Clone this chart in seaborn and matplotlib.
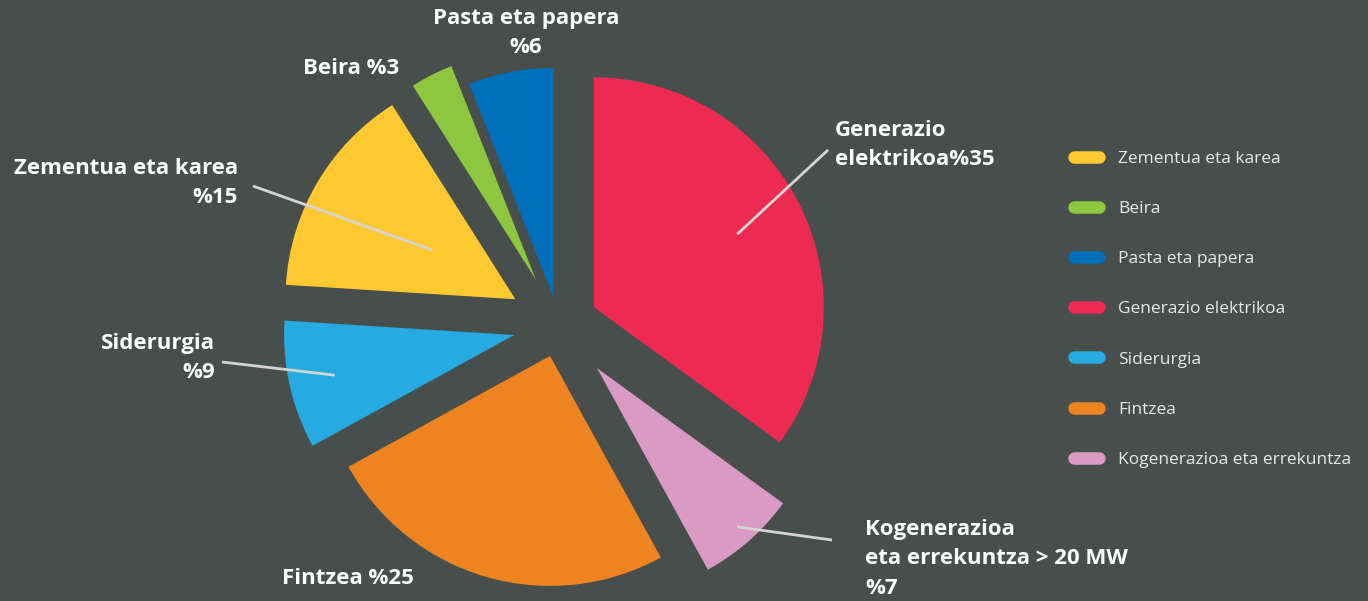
import numpy as np
import matplotlib
matplotlib.use("Agg")
import matplotlib.pyplot as plt
from matplotlib.lines import Line2D
import seaborn as sns

# Pie order, clockwise from 12 o'clock
sectors = ["Generazio elektrikoa", "Kogenerazioa eta errekuntza", "Fintzea",
           "Siderurgia", "Zementua eta karea", "Beira", "Pasta eta papera"]
shares = [35, 7, 25, 9, 15, 3, 6]
colors = ["#ED2A51", "#D99BC4", "#ED841F", "#25AAE1", "#FEC930", "#8DC63F", "#0070BA"]
explode_frac = [0.17, 0.25, 0.14, 0.20, 0.22, 0.22, 0.12]

# Legend order as in the reference
legend_order = ["Zementua eta karea", "Beira", "Pasta eta papera", "Generazio elektrikoa",
                "Siderurgia", "Fintzea", "Kogenerazioa eta errekuntza"]

label_texts = {
    "Generazio elektrikoa": "Generazio\nelektrikoa%35",
    "Kogenerazioa eta errekuntza": "Kogenerazioa\neta errekuntza > 20 MW\n%7",
    "Fintzea": "Fintzea %25",
    "Siderurgia": "Siderurgia\n%9",
    "Zementua eta karea": "Zementua eta karea\n%15",
    "Beira": "Beira %3",
    "Pasta eta papera": "Pasta eta papera\n%6",
}

BG = "#474E4C"
sns.set_theme(style="white")
plt.rcParams["font.family"] = ["Open Sans", "DejaVu Sans"]

W, H = 1368, 601
fig = plt.figure(figsize=(W / 100, H / 100), dpi=100, facecolor=BG)
ax = fig.add_axes([0, 0, 1, 1])
ax.set_facecolor(BG)

R = 230
# explode is in data units here, so scale by the radius
wedges, _ = ax.pie(shares, colors=colors, explode=[e * R for e in explode_frac],
                   startangle=90, counterclock=False, radius=R, center=(559, 276),
                   wedgeprops=dict(linewidth=0))
ax.set_xlim(0, W)
ax.set_ylim(0, H)
ax.set_aspect("equal")
ax.axis("off")

def anchor(w, frac):
    mid = np.deg2rad((w.theta1 + w.theta2) / 2)
    cx, cy = w.center
    return cx + frac * w.r * np.cos(mid), cy + frac * w.r * np.sin(mid)

# leader lines: (sector, radius fraction, outer end)
leaders = [
    ("Zementua eta karea", 0.42, (253, 415)),
    ("Siderurgia", 0.80, (222, 239)),
    ("Generazio elektrikoa", 0.70, (828, 451)),
    ("Kogenerazioa eta errekuntza", 0.92, (832, 61)),
]
for name, frac, end in leaders:
    w = wedges[sectors.index(name)]
    ax0, ay0 = anchor(w, frac)
    ax.plot([ax0, end[0]], [ay0, end[1]], color="#D4D4D4", lw=2, solid_capstyle="butt")

# label text positions (x, y, ha)
label_pos = {
    "Pasta eta papera": (526, 568, "center"),
    "Beira": (303, 533, "left"),
    "Zementua eta karea": (238, 418, "right"),
    "Siderurgia": (215, 243, "right"),
    "Generazio elektrikoa": (835, 456, "left"),
    "Kogenerazioa eta errekuntza": (865, 42, "left"),
    "Fintzea": (282, 23, "left"),
}
for name, (x, y, ha) in label_pos.items():
    ax.text(x, y, label_texts[name], ha=ha, va="center", color="white",
            fontsize=16, fontweight="bold", linespacing=1.5,
            multialignment=ha)

handles = [Line2D([], [], color=colors[sectors.index(n)], lw=9, solid_capstyle="round")
           for n in legend_order]
leg = ax.legend(handles, legend_order, loc="upper left",
                bbox_to_anchor=(1058 / W, 1 - 135 / H), bbox_transform=fig.transFigure,
                frameon=False, fontsize=12.5, labelspacing=1.96, handlelength=1.45,
                handletextpad=1.1, labelcolor="#E8E8E8")

fig.savefig("out.png", dpi=100, facecolor=BG)
